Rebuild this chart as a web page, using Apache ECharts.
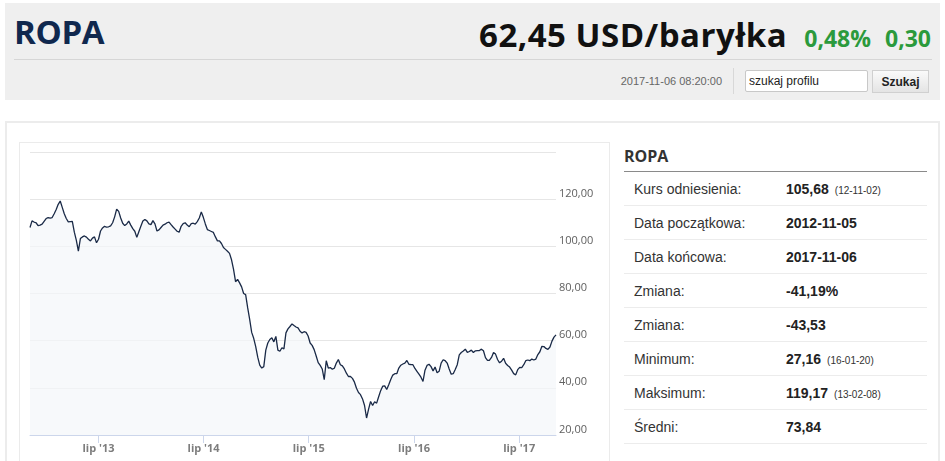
<!DOCTYPE html>
<html lang="pl">
<head>
<meta charset="utf-8">
<title>ROPA</title>
<script src="https://cdn.jsdelivr.net/npm/echarts@6/dist/echarts.min.js"></script>
<style>
  body { margin: 0; width: 945px; height: 461px; overflow: hidden; background: #fff; font-family: "Liberation Sans", Arial, sans-serif; position: relative; }
  .abs { position: absolute; }
  #head { left: 5px; top: 3px; width: 935px; height: 97px; background: #efefef; }
  #title { left: 14px; top: 12px; font: bold 33px "Open Sans", sans-serif; color: #10284e; line-height: 40px; letter-spacing: -0.3px; }
  #price { right: 14px; top: 12px; line-height: 40px; white-space: nowrap; }
  #price .val { font: bold 33px "Open Sans", sans-serif; color: #111; letter-spacing: 0.5px; }
  #price .chg { font: bold 23px "Open Sans", sans-serif; color: #2b9a3c; }
  #hline { left: 14px; top: 59px; width: 918px; height: 1px; background: #d6d6d6; }
  #stamp { left: 565px; top: 75px; width: 157px; text-align: right; font-size: 11px; color: #666; }
  #sep { left: 733px; top: 68px; width: 1px; height: 26px; background: #d8d8d8; }
  #search { left: 745px; top: 70px; width: 118px; height: 20px; background: #fff; border: 1px solid #c8c8c8; border-radius: 2px; font-size: 12px; color: #222; line-height: 20px; padding-left: 3px; }
  #btn { left: 872px; top: 70px; width: 55px; height: 21px; border: 1px solid #d0d0d0; background: linear-gradient(#fafafa, #e4e4e4); font-size: 12px; font-weight: bold; color: #222; text-align: center; line-height: 22px; }
  #panel { left: 5px; top: 121px; width: 931px; height: 350px; border: 2px solid #ececec; background: #fff; }
  #chartbox { left: 19px; top: 142px; width: 589px; height: 330px; border: 1px solid #ebebeb; }
  #chart { left: 20px; top: 143px; width: 588px; height: 318px; }
  #stats { left: 624px; top: 143px; width: 303px; }
  #stats h3 { margin: 0; font: bold 16px "Open Sans", sans-serif; color: #333; height: 28px; line-height: 27px; border-bottom: 1px solid #8a8a8a; }
  #stats table { border-collapse: collapse; width: 303px; }
  #stats td { height: 33px; border-bottom: 1px solid #ececec; font-size: 14px; color: #333; padding: 0; }
  #stats td.l { padding-left: 10px; width: 152px; }
  #stats td.v { font-weight: bold; color: #222; }
  #stats td.v small { font-weight: normal; font-size: 10px; margin-left: 6px; color: #333; }
</style>
</head>
<body>
<div id="head" class="abs"></div>
<div id="title" class="abs">ROPA</div>
<div id="price" class="abs"><span class="val">62,45 USD/baryłka</span><span class="chg" style="margin-left:17px">0,48%</span><span class="chg" style="margin-left:14px">0,30</span></div>
<div id="hline" class="abs"></div>
<div id="stamp" class="abs">2017-11-06 08:20:00</div>
<div id="sep" class="abs"></div>
<div id="search" class="abs">szukaj profilu</div>
<div id="btn" class="abs">Szukaj</div>

<div id="panel" class="abs"></div>
<div id="chartbox" class="abs"></div>
<div id="chart" class="abs"></div>

<div id="stats" class="abs">
  <h3>ROPA</h3>
  <table>
    <tr><td class="l">Kurs odniesienia:</td><td class="v">105,68<small>(12-11-02)</small></td></tr>
    <tr><td class="l">Data początkowa:</td><td class="v">2012-11-05</td></tr>
    <tr><td class="l">Data końcowa:</td><td class="v">2017-11-06</td></tr>
    <tr><td class="l">Zmiana:</td><td class="v">-41,19%</td></tr>
    <tr><td class="l">Zmiana:</td><td class="v">-43,53</td></tr>
    <tr><td class="l">Minimum:</td><td class="v">27,16<small>(16-01-20)</small></td></tr>
    <tr><td class="l">Maksimum:</td><td class="v">119,17<small>(13-02-08)</small></td></tr>
    <tr><td class="l">Średni:</td><td class="v">73,84</td></tr>
  </table>
</div>

<script>
// weekly closes, first one on startDate
var startDate = '2012-11-05';
var endDate = '2017-11-06';
var weeklyClose = [
  108.0, 110.8, 110.3, 110.0, 108.8, 109.0, 109.4, 110.6, 111.8, 112.2,
  112.0, 112.2, 113.8, 115.6, 117.8, 119.2, 116.5, 113.8, 111.8, 110.4,
  110.5, 110.6, 106.0, 102.5, 98.0, 103.3, 104.0, 104.4, 103.9, 103.0,
  102.3, 103.5, 104.0, 101.5, 103.0, 106.5, 107.8, 108.5, 108.1, 108.3,
  108.7, 110.0, 112.5, 115.8, 114.8, 112.0, 109.8, 108.8, 109.5, 110.7,
  109.0, 107.5, 106.4, 103.8, 106.2, 108.5, 110.7, 111.4, 110.8, 109.5,
  109.2, 110.9, 109.5, 106.5, 107.0, 108.0, 109.0, 109.4, 110.0, 110.3,
  109.2, 108.2, 107.3, 106.4, 106.0, 108.5, 109.6, 110.0, 109.0, 108.3,
  109.6, 109.8, 109.4, 110.5, 112.0, 114.6, 112.3, 109.5, 107.1, 106.7,
  106.3, 105.9, 104.0, 102.3, 102.3, 101.2, 99.5, 98.7, 97.9, 97.0,
  94.3, 90.2, 85.0, 86.0, 84.5, 82.8, 80.0, 79.5, 74.0, 69.0,
  63.5, 61.0, 57.5, 53.0, 49.6, 48.4, 49.0, 56.0, 59.0, 60.5,
  61.2, 59.5, 61.8, 56.0, 55.5, 57.0, 56.5, 63.3, 65.0, 66.0,
  67.1, 66.4, 65.8, 65.4, 64.0, 63.3, 63.8, 63.5, 62.0, 59.0,
  58.0, 56.2, 53.5, 50.7, 49.5, 48.0, 43.5, 51.5, 48.4, 48.6,
  47.9, 48.3, 50.5, 52.0, 49.8, 49.3, 48.0, 46.2, 44.8, 44.8,
  44.0, 42.4, 39.8, 38.0, 37.1, 35.3, 32.5, 27.2, 31.0, 34.2,
  32.5, 34.1, 33.5, 36.2, 38.8, 40.7, 40.8, 39.3, 41.3, 43.5,
  45.4, 46.0, 46.0, 48.4, 49.6, 50.1, 50.5, 51.6, 50.0, 49.8,
  49.8, 48.2, 47.0, 45.8, 44.5, 42.7, 47.5, 49.5, 50.0, 49.0,
  47.2, 48.8, 46.4, 47.0, 50.5, 51.9, 51.5, 50.5, 48.0, 45.8,
  46.0, 47.8, 49.8, 54.0, 55.0, 55.6, 56.4, 55.0, 55.4, 56.0,
  55.0, 55.7, 55.8, 55.8, 56.4, 55.7, 52.8, 51.6, 51.7, 52.9,
  55.0, 54.3, 52.0, 50.6, 51.3, 52.5, 50.4, 49.5, 48.8, 47.5,
  46.0, 45.5, 47.7, 48.7, 48.6, 49.8, 51.5, 51.8, 51.5, 52.2,
  51.8, 52.2, 54.1, 55.3, 57.6, 57.5, 56.7, 56.3, 57.3, 59.8,
  61.5, 62.45
];
var xTickDates = ['2013-07-01', '2014-07-01', '2015-07-01', '2016-07-01', '2017-07-01'];
var xTickLabels = ["lip '13", "lip '14", "lip '15", "lip '16", "lip '17"];
var yTicks = [20, 40, 60, 80, 100, 120, 140];

var t0 = Date.parse(startDate + 'T00:00:00Z');
var week = 7 * 24 * 3600 * 1000;
var points = [];
for (var i = 0; i < weeklyClose.length; i++) {
  points.push([t0 + i * week, weeklyClose[i]]);
}
var tickTimes = xTickDates.map(function (d) { return Date.parse(d + 'T00:00:00Z'); });

var chart = echarts.init(document.getElementById('chart'));
chart.setOption({
  animation: false,
  grid: { left: 10, right: 52, top: 9, bottom: 26 },
  xAxis: {
    type: 'value',
    min: t0,
    max: Date.parse(endDate + 'T00:00:00Z'),
    axisLine: { lineStyle: { color: '#ccd6eb' } },
    axisTick: { show: true, length: 8, lineStyle: { color: '#ccd6eb' }, customValues: tickTimes },
    axisLabel: {
      customValues: tickTimes,
      margin: 8,
      color: '#7d7d7d',
      fontSize: 11,
      fontWeight: 'bold',
      fontFamily: 'Open Sans',
      formatter: function (v) {
        var k = tickTimes.indexOf(v);
        return k >= 0 ? xTickLabels[k] : '';
      }
    },
    splitLine: { show: false }
  },
  yAxis: {
    type: 'value',
    position: 'right',
    min: 20,
    max: 140,
    interval: 20,
    axisLine: { show: false },
    axisTick: { show: false },
    splitLine: { lineStyle: { color: '#e6e6e6' } },
    axisLabel: {
      margin: 3,
      verticalAlign: 'bottom',
      color: '#606060',
      fontSize: 11,
      fontFamily: 'Open Sans',
      formatter: function (v) {
        return v === yTicks[yTicks.length - 1] ? '' : v.toFixed(2).replace('.', ',');
      }
    }
  },
  series: [{
    type: 'line',
    data: points,
    showSymbol: false,
    lineStyle: { color: '#1a2a47', width: 1.3 },
    areaStyle: { color: '#f4f6f9', origin: 'start' }
  }]
});
</script>
</body>
</html>
